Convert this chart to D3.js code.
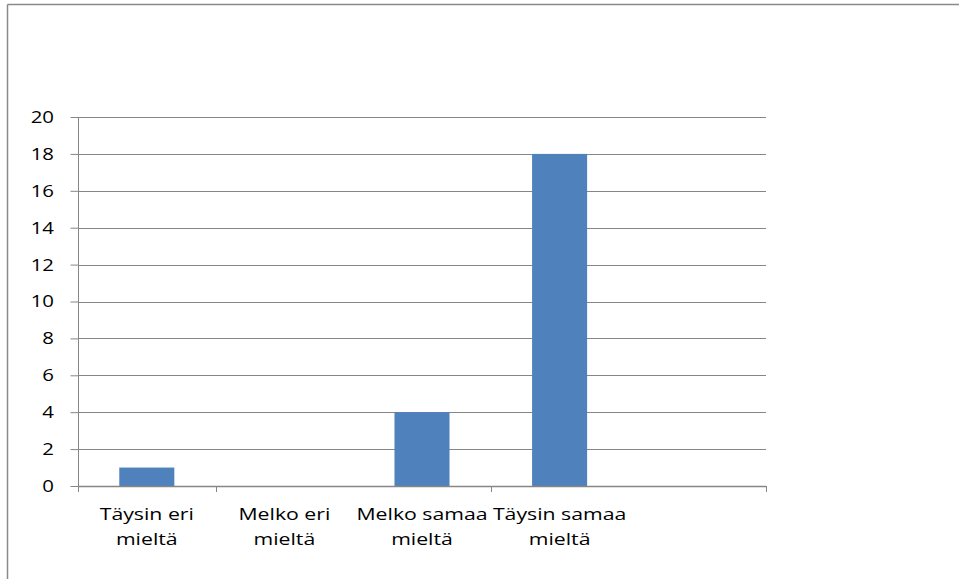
<!DOCTYPE html>
<html>
<head>
<meta charset="utf-8">
<script src="https://cdn.jsdelivr.net/npm/d3@7"></script>
<style>
  html, body { margin: 0; padding: 0; background: #fff; }
  svg { display: block; }
  text { font-family: "Open Sans", "Liberation Sans", sans-serif; fill: #000; }
</style>
</head>
<body>
<svg id="chart" width="959" height="579"></svg>
<script>
const categories = ["Täysin eri mieltä", "Melko eri mieltä", "Melko samaa mieltä", "Täysin samaa mieltä", ""];
const labelLines = [["Täysin eri", "mieltä"], ["Melko eri", "mieltä"], ["Melko samaa", "mieltä"], ["Täysin samaa", "mieltä"], []];
const values = [1, 0, 4, 18, null];
const yTicks = [0, 2, 4, 6, 8, 10, 12, 14, 16, 18, 20];

const svg = d3.select("#chart");
const plot = { left: 78, right: 766, top: 117, bottom: 486 };
const gridColor = "#868686";
const fontFam = "'Open Sans', 'Liberation Sans', sans-serif";

// outer frame (top and left edges visible)
svg.append("line").attr("x1", 7.5).attr("x2", 959).attr("y1", 4.5).attr("y2", 4.5)
  .attr("stroke", "#8a8a8a").attr("stroke-width", 1.5);
svg.append("line").attr("x1", 7.5).attr("x2", 7.5).attr("y1", 4.5).attr("y2", 579)
  .attr("stroke", "#8a8a8a").attr("stroke-width", 1.5);

const x = d3.scaleBand().domain(d3.range(categories.length))
  .range([plot.left, plot.right]).paddingInner(0.6).paddingOuter(0.3);
const y = d3.scaleLinear().domain([0, 20]).range([plot.bottom, plot.top]);

// gridlines
svg.append("g").selectAll("line").data(yTicks.filter(d => d > 0)).join("line")
  .attr("x1", plot.left).attr("x2", plot.right)
  .attr("y1", d => Math.round(y(d)) + 0.5).attr("y2", d => Math.round(y(d)) + 0.5)
  .attr("stroke", gridColor).attr("stroke-width", 1);

// bars
svg.append("g").selectAll("rect").data(values.map((v, i) => ({ v, i })).filter(d => d.v))
  .join("rect")
  .attr("x", d => x(d.i)).attr("width", x.bandwidth())
  .attr("y", d => y(d.v)).attr("height", d => y(0) - y(d.v))
  .attr("fill", "#4f81bd");

// y axis
const ys = 1.2;
const yAxis = d3.axisLeft(y).tickValues(yTicks).tickSize(8).tickPadding(15);
const gy = svg.append("g").attr("transform", `translate(${plot.left + 0.5},0)`).call(yAxis);
gy.select(".domain").attr("stroke", gridColor).attr("d", `M0,${plot.top}V${plot.bottom + 6}`);
gy.selectAll(".tick line").attr("stroke", gridColor);
gy.selectAll(".tick text").attr("font-size", 17).attr("font-family", fontFam)
  .attr("fill", "#000").attr("transform", `scale(${ys},1)`)
  .attr("x", -24.5 / ys);

// x axis baseline
svg.append("line").attr("x1", plot.left).attr("x2", plot.right)
  .attr("y1", plot.bottom + 0.5).attr("y2", plot.bottom + 0.5)
  .attr("stroke", gridColor).attr("stroke-width", 1.5);

// x ticks every other boundary
const step = x.step();
const boundaries = [1, 3, 5].map(k => plot.left + k * step);
svg.append("g").selectAll("line").data(boundaries).join("line")
  .attr("x1", d => Math.round(d) + 0.5).attr("x2", d => Math.round(d) + 0.5)
  .attr("y1", plot.bottom).attr("y2", plot.bottom + 6)
  .attr("stroke", gridColor);

// category labels
const lg = svg.append("g");
labelLines.forEach((lines, i) => {
  const cx = x(i) + x.bandwidth() / 2;
  lines.forEach((t, j) => {
    lg.append("text")
      .attr("transform", `translate(${cx},${520 + j * 25}) scale(1.25,1)`)
      .attr("text-anchor", "middle")
      .attr("font-size", 17)
      .text(t);
  });
});
</script>
</body>
</html>
